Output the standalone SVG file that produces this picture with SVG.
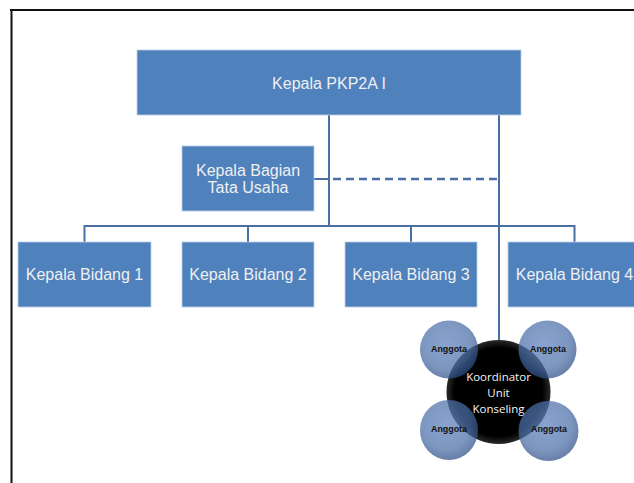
<svg xmlns="http://www.w3.org/2000/svg" width="634" height="483" viewBox="0 0 634 483">
<defs>
<radialGradient id="sat" cx="0.45" cy="0.4" r="0.6">
<stop offset="0" stop-color="#5b80bb"/>
<stop offset="0.7" stop-color="#4a6ea8"/>
<stop offset="1" stop-color="#2f4f86"/>
</radialGradient>
<radialGradient id="core" cx="0.5" cy="0.5" r="0.5">
<stop offset="0.85" stop-color="#000"/>
<stop offset="1" stop-color="#2a2a2a"/>
</radialGradient>
</defs>
<style>
.box{fill:#4f81bd;stroke:#b9cde6;stroke-width:0.8}
.lbl{font-family:"Liberation Sans",Arial,sans-serif;font-size:16px;fill:#f0f0f0;text-anchor:middle}
.ln{stroke:#4a6fa5;stroke-width:2;fill:none}
.dash{stroke:#4a6fa5;stroke-width:2.5;fill:none;stroke-dasharray:8 5}
.sat{fill:url(#sat);fill-opacity:0.72}
.ang{font-family:"Liberation Sans",Arial,sans-serif;font-size:8.5px;font-weight:bold;fill:#111;text-anchor:middle}
.kor{font-family:"Open Sans","Noto Sans",sans-serif;font-size:11.5px;fill:#f2f2f2;text-anchor:middle}
</style>
<rect width="634" height="483" fill="#fff"/>
<g id="frame">
<line x1="10" y1="10" x2="634" y2="10" stroke="#111" stroke-width="2"/>
<line x1="11.5" y1="9" x2="11.5" y2="483" stroke="#111" stroke-width="2"/>
</g>
<g id="connectors">
<line class="ln" x1="329" y1="115" x2="329" y2="227"/>
<line class="ln" x1="499" y1="115" x2="499" y2="342"/>
<line class="ln" x1="314" y1="179" x2="329" y2="179"/>
<line class="dash" x1="333" y1="179" x2="499" y2="179"/>
<polyline class="ln" points="84.5,242 84.5,226 574.5,226 574.5,242"/>
<line class="ln" x1="248" y1="226" x2="248" y2="242"/>
<line class="ln" x1="411" y1="226" x2="411" y2="242"/>
</g>
<g id="kepala-pkp2a">
<rect class="box" x="137" y="50" width="384" height="65"/>
<text class="lbl" x="329" y="89">Kepala PKP2A I</text>
</g>
<g id="kepala-bagian">
<rect class="box" x="182" y="146" width="132" height="65"/>
<text class="lbl" x="248" y="176">Kepala Bagian</text>
<text class="lbl" x="248" y="193">Tata Usaha</text>
</g>
<g id="bidang-1">
<rect class="box" x="18" y="242" width="133" height="65"/>
<text class="lbl" x="84.5" y="280">Kepala Bidang 1</text>
</g>
<g id="bidang-2">
<rect class="box" x="182" y="242" width="132" height="65"/>
<text class="lbl" x="248" y="280">Kepala Bidang 2</text>
</g>
<g id="bidang-3">
<rect class="box" x="345" y="242" width="132" height="65"/>
<text class="lbl" x="411" y="280">Kepala Bidang 3</text>
</g>
<g id="bidang-4">
<rect class="box" x="508" y="242" width="133" height="65"/>
<text class="lbl" x="574.5" y="280">Kepala Bidang 4</text>
</g>
<g id="koordinator">
<circle cx="498.5" cy="392" r="52" fill="url(#core)"/>
<text class="kor" x="498.5" y="381">Koordinator</text>
<text class="kor" x="498.5" y="397">Unit</text>
<text class="kor" x="498.5" y="413">Konseling</text>
</g>
<g id="anggota-1">
<ellipse class="sat" cx="449" cy="349.5" rx="29" ry="29"/>
<text class="ang" x="449" y="352" textLength="36" lengthAdjust="spacingAndGlyphs">Anggota</text>
</g>
<g id="anggota-2">
<ellipse class="sat" cx="547.5" cy="349.5" rx="29" ry="29"/>
<text class="ang" x="548" y="352" textLength="36" lengthAdjust="spacingAndGlyphs">Anggota</text>
</g>
<g id="anggota-3">
<ellipse class="sat" cx="449" cy="430" rx="29" ry="30"/>
<text class="ang" x="449" y="432" textLength="36" lengthAdjust="spacingAndGlyphs">Anggota</text>
</g>
<g id="anggota-4">
<ellipse class="sat" cx="548.5" cy="431" rx="30" ry="30"/>
<text class="ang" x="549" y="432" textLength="36" lengthAdjust="spacingAndGlyphs">Anggota</text>
</g>
</svg>
